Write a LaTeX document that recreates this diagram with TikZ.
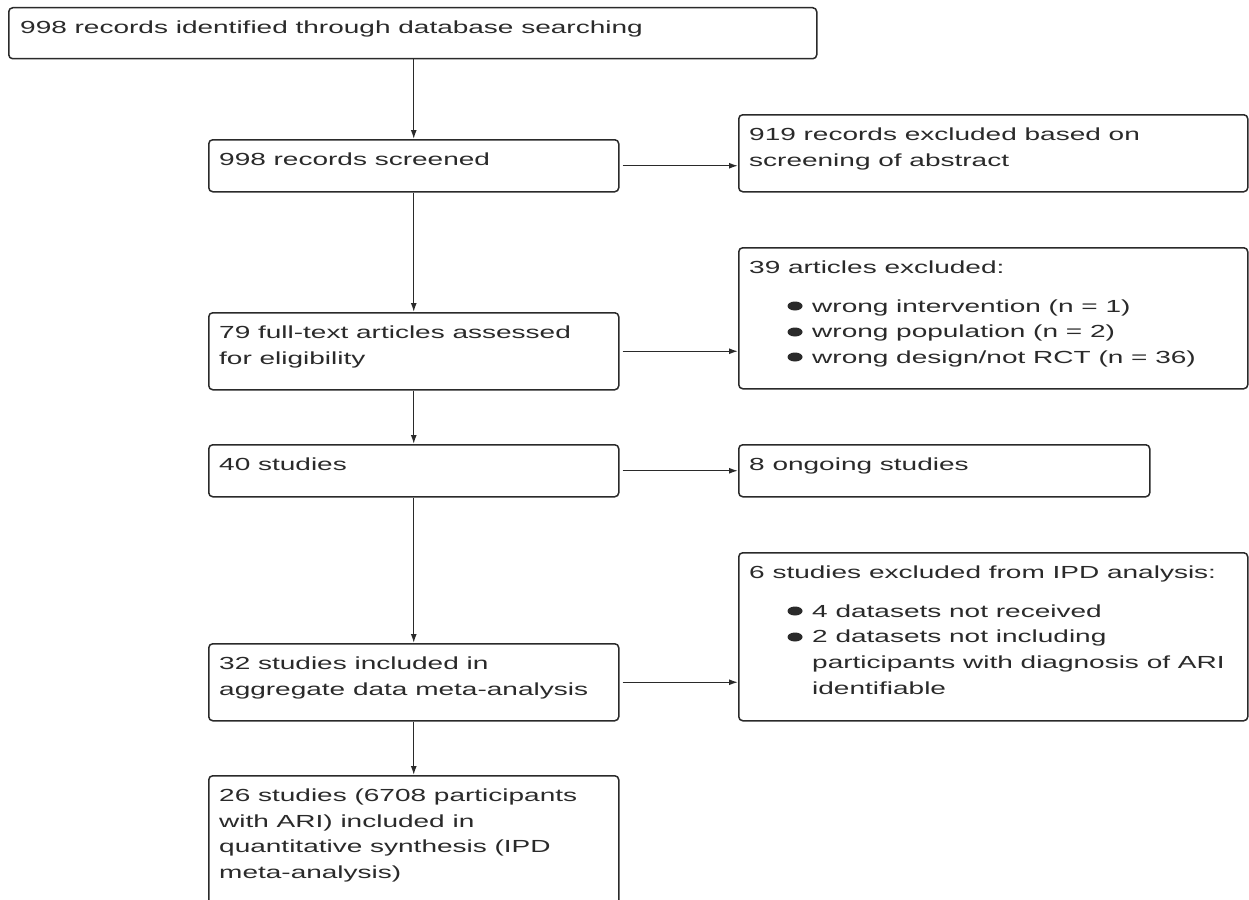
\documentclass[tikz,border=0pt]{standalone}
\usepackage{fontspec}
\setmainfont{Liberation Sans}[FakeStretch=1.6]
\usetikzlibrary{arrows.meta,calc}
\definecolor{ink}{HTML}{2A2A2A}
\newcommand\fst{\rule{0pt}{18pt}}
\begin{document}
\begin{tikzpicture}[x=1pt,y=-1pt,
  box/.style={draw=ink, line width=1.5pt, rounded corners=4pt, inner sep=0pt, anchor=north west},
  txt/.style={text=ink, font=\fontsize{17.5}{25.8}\selectfont, align=left, inner sep=0pt, anchor=north west},
  arr/.style={draw=ink, line width=1.4pt, -{Latex[length=9pt,width=6pt]}},
  dot/.style={fill=ink}]
\useasboundingbox (0,0) rectangle (1249,899);
\fill[white] (0,0) rectangle (1249,899);
\clip (0,0) rectangle (1249,899);
% boxes
\node[box, minimum width=808pt, minimum height=51pt]  (b1)   at (8,7)     {};
\node[box, minimum width=410pt, minimum height=52pt]  (b2)   at (208,139) {};
\node[box, minimum width=509pt, minimum height=77pt]  (b919) at (738,114) {};
\node[box, minimum width=410pt, minimum height=77pt]  (b3)   at (208,312) {};
\node[box, minimum width=509pt, minimum height=141pt] (b39)  at (738,247) {};
\node[box, minimum width=410pt, minimum height=52pt]  (b4)   at (208,444) {};
\node[box, minimum width=411pt, minimum height=52pt]  (b8)   at (738,444) {};
\node[box, minimum width=410pt, minimum height=77pt]  (b5)   at (208,643) {};
\node[box, minimum width=509pt, minimum height=168pt] (b6)   at (738,552) {};
\node[box, minimum width=410pt, minimum height=170pt] (b7)   at (208,775) {};
% texts
\node[txt] (t1) at ($(b1.north west)+(12,8)$) {\fst 998 records identified through database searching};
\node[txt] (t2) at ($(b2.north west)+(11,8)$) {\fst 998 records screened};
\node[txt] (t919) at ($(b919.north west)+(11,8)$) {\fst 919 records excluded based on\\screening of abstract};
\node[txt] (t3) at ($(b3.north west)+(11,8)$) {\fst 79 full-text articles assessed\\for eligibility};
\node[txt] (t39) at ($(b39.north west)+(11,8)$) {\fst 39 articles excluded:\\[13pt]
  \hspace*{63pt}wrong intervention (n = 1)\\
  \hspace*{63pt}wrong population (n = 2)\\
  \hspace*{63pt}wrong design/not RCT (n = 36)};
\node[txt] (t4) at ($(b4.north west)+(11,8)$) {\fst 40 studies};
\node[txt] (t8) at ($(b8.north west)+(11,8)$) {\fst 8 ongoing studies};
\node[txt] (t5) at ($(b5.north west)+(11,8)$) {\fst 32 studies included in\\aggregate data meta-analysis};
\node[txt] (t6) at ($(b6.north west)+(11,8)$) {\fst 6 studies excluded from IPD analysis:\\[13pt]
  \hspace*{63pt}4 datasets not received\\
  \hspace*{63pt}2 datasets not including\\
  \hspace*{63pt}participants with diagnosis of ARI\\
  \hspace*{63pt}identifiable};
\node[txt] (t7) at ($(b7.north west)+(11,8)$) {\fst 26 studies (6708 participants\\with ARI) included in\\quantitative synthesis (IPD\\meta-analysis)};
% bullets
\foreach \y in {306,332,357} \fill[dot] (795,\y) ellipse [x radius=7.5pt, y radius=4.5pt];
\foreach \y in {611,637} \fill[dot] (795,\y) ellipse [x radius=7.5pt, y radius=4.5pt];
% arrows
\draw[arr] (b2.north |- b1.south) -- (b2.north);
\draw[arr, shorten <=3pt] (b2.east) -- (b2.east -| b919.west);
\draw[arr] (b2.south) -- (b3.north);
\draw[arr, shorten <=3pt] (b3.east) -- (b3.east -| b39.west);
\draw[arr] (b3.south) -- (b4.north);
\draw[arr, shorten <=3pt] (b4.east) -- (b4.east -| b8.west);
\draw[arr] (b4.south) -- (b5.north);
\draw[arr, shorten <=3pt] (b5.east) -- (b5.east -| b6.west);
\draw[arr] (b5.south) -- (b7.north);
\end{tikzpicture}
\end{document}
